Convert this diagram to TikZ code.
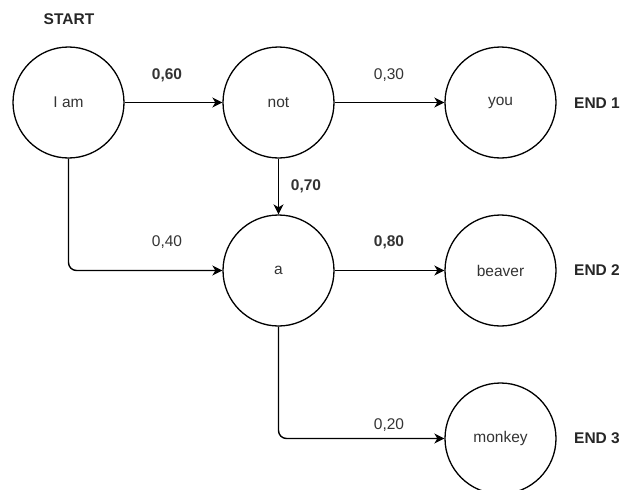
\documentclass[tikz,border=0pt]{standalone}
\usepackage{fontspec}
\setmainfont{Liberation Sans}
\usetikzlibrary{arrows.meta}
\begin{document}
\begin{tikzpicture}[x=1pt,y=-1pt,
  word/.style={circle,draw=black,line width=1.3pt,minimum size=111pt,inner sep=0pt,font=\fontsize{15.5}{18}\selectfont,text=black!80},
  link/.style={line width=1.4pt,draw=black,-{Stealth[length=10pt,width=10pt,inset=3pt]},rounded corners=8pt},
  prob/.style={font=\fontsize{15.5}{18}\selectfont,text=black!80},
  probb/.style={prob,font=\fontsize{15.5}{18}\selectfont\bfseries},
  tag/.style={font=\fontsize{15.5}{18}\selectfont\bfseries,text=black!85}]
\useasboundingbox (0,0) rectangle (625,490);
\clip (0,0) rectangle (625,490);

% states
\node[word] (iam) at (68.5,102.5) {I am};
\node[word] (not) at (278.5,102.5) {not};
\node[word] (you) at (500.5,102.5) {you};
\node[word] (a) at (278.5,270.5) {a};
\node[word] (beaver) at (500.5,270.5) {beaver};
\node[word] (monkey) at (500.5,438.5) {monkey};

% start and end markers
\node[tag] (start) at (69,19) {START};
\node[tag] (end1) at (597,103) {END 1};
\node[tag] (end2) at (597,270) {END 2};
\node[tag] (end3) at (597,438) {END 3};

% transitions
\draw[link] (iam) -- (not);
\draw[link] (not) -- (you);
\draw[link] (not) -- (a);
\draw[link] (iam.south) -- (iam.south |- a.west) -- (a.west);
\draw[link] (a) -- (beaver);
\draw[link] (a.south) -- (a.south |- monkey.west) -- (monkey.west);

% transition probabilities
\node[probb] (p1) at (167,75) {0,60};
\node[prob] (p2) at (389,75) {0,30};
\node[probb] (p3) at (306,186) {0,70};
\node[prob] (p4) at (167,242) {0,40};
\node[probb] (p5) at (389,242) {0,80};
\node[prob] (p6) at (389,425) {0,20};
\end{tikzpicture}
\end{document}
